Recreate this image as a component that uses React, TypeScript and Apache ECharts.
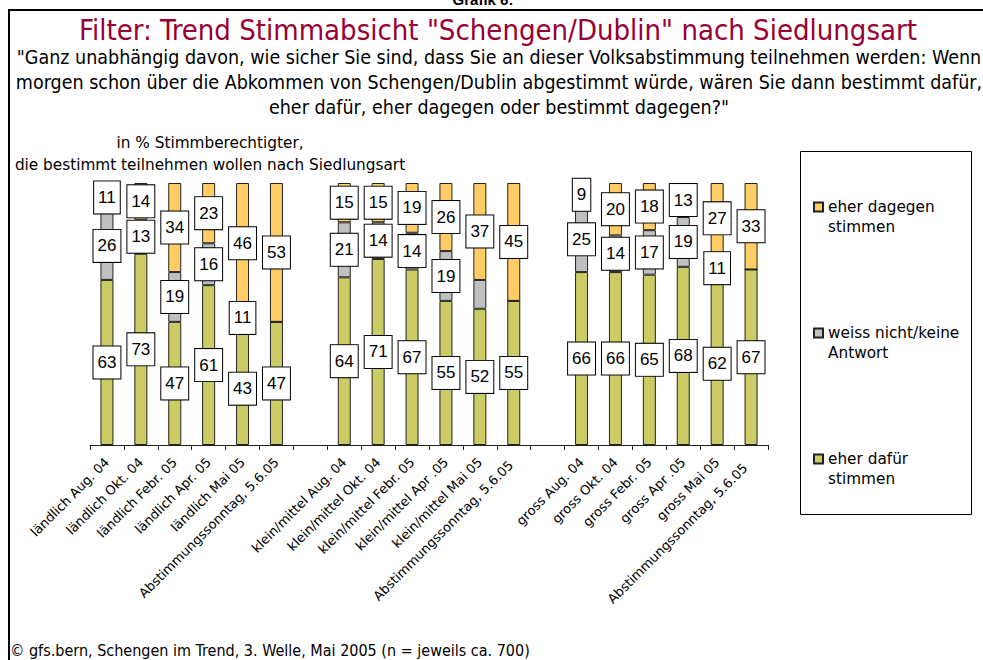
import { useEffect, useRef } from "react";
import * as echarts from "echarts";

const categories = [
  "ländlich Aug. 04",
  "ländlich Okt. 04",
  "ländlich Febr. 05",
  "ländlich Apr. 05",
  "ländlich Mai 05",
  "Abstimmungssonntag, 5.6.05",
  " ",
  "klein/mittel Aug. 04",
  "klein/mittel Okt. 04",
  "klein/mittel Febr. 05",
  "klein/mittel Apr .05",
  "klein/mittel Mai 05",
  "Abstimmungssonntag, 5.6.05 ",
  "  ",
  "gross Aug. 04",
  "gross Okt. 04",
  "gross Febr. 05",
  "gross Apr .05",
  "gross Mai 05",
  "Abstimmungssonntag, 5.6.05  ",
];

const eherDafuer = [63, 73, 47, 61, 43, 47, null, 64, 71, 67, 55, 52, 55, null, 66, 66, 65, 68, 62, 67];
const weissNicht = [26, 13, 19, 16, 11, 0, null, 21, 14, 14, 19, 11, 0, null, 25, 14, 17, 19, 11, 0];
const eherDagegen = [11, 14, 34, 23, 46, 53, null, 15, 15, 19, 26, 37, 45, null, 9, 20, 18, 13, 27, 33];
// indices of segments whose value label is not printed in the original
const weissNichtHiddenLabels = [11];

const seriesNames = ["eher dafür stimmen", "weiss nicht/keine Antwort", "eher dagegen stimmen"];
const legendLabels: Record<string, string> = {
  "eher dagegen stimmen": " \neher dagegen\nstimmen",
  "weiss nicht/keine Antwort": " \nweiss nicht/keine\nAntwort",
  "eher dafür stimmen": " \neher dafür\nstimmen",
};

const titleText = 'Filter: Trend Stimmabsicht "Schengen/Dublin" nach Siedlungsart';
const questionLines = [
  '"Ganz unabhängig davon, wie sicher Sie sind, dass Sie an dieser Volksabstimmung teilnehmen werden: Wenn',
  "morgen schon über die Abkommen von Schengen/Dublin abgestimmt würde, wären Sie dann bestimmt dafür,",
  'eher dafür, eher dagegen oder bestimmt dagegen?"',
];
const unitLines = ["in % Stimmberechtigter,", "die bestimmt teilnehmen wollen nach Siedlungsart"];
const footerText = "© gfs.bern, Schengen im Trend, 3. Welle, Mai 2005 (n = jeweils ca. 700)";

const NARROW = "'Liberation Sans Narrow', 'Arial Narrow', 'DejaVu Sans Condensed', sans-serif";
const VERDANA = "'DejaVu Sans', Verdana, sans-serif";

function buildData(values: (number | null)[], hidden: number[] = []) {
  return values.map((v, i) => {
    if (v === null) return "-";
    if (v === 0 || hidden.includes(i)) return { value: v, label: { show: false } };
    return v;
  });
}

export default function App() {
  const ref = useRef<HTMLDivElement>(null);
  useEffect(() => {
    const chart = echarts.init(ref.current!, null, { renderer: "svg" });
    const labelStyle = {
      show: true,
      position: "inside",
      color: "#000",
      fontFamily: "'Liberation Sans', Arial, sans-serif",
      fontSize: 17,
      lineHeight: 18,
      backgroundColor: "#fff",
      borderColor: "#000",
      borderWidth: 1,
      padding: [7, 4, 7, 4],
    };
    const colors = ["#CCCC66", "#C0C0C0", "#FFCC66"];
    const allValues = [eherDafuer, weissNicht, eherDagegen];
    const hiddenSets = [[], weissNichtHiddenLabels, []];
    const series = seriesNames.map((name, k) => ({
      name,
      type: "bar",
      stack: "total",
      barWidth: 13,
      itemStyle: { color: colors[k], borderColor: "#222", borderWidth: 1 },
      label: labelStyle,
      data: buildData(allValues[k], hiddenSets[k]),
    }));

    const graphic: any[] = [
      {
        type: "rect",
        shape: { x: 9, y: 10, width: 1000, height: 700 },
        style: { fill: "none", stroke: "#000", lineWidth: 2 },
      },
      {
        type: "text",
        x: 483,
        y: -1,
        style: {
          text: "Grafik 6:",
          font: "bold 15px 'Liberation Sans', Arial, sans-serif",
          fill: "#000",
          align: "center",
          verticalAlign: "middle",
        },
      },
      {
        type: "text",
        x: 498,
        y: 30,
        style: {
          text: titleText,
          fontFamily: NARROW,
          fontSize: 29,
          fill: "#990033",
          align: "center",
          verticalAlign: "middle",
        },
      },
      ...questionLines.map((t, i) => ({
        type: "text",
        x: 499,
        y: 57 + i * 25,
        style: {
          text: t,
          fontFamily: NARROW,
          fontSize: 19.5,
          fill: "#000",
          align: "center",
          verticalAlign: "middle",
        },
      })),
      ...unitLines.map((t, i) => ({
        type: "text",
        x: 210,
        y: 143 + i * 22,
        style: {
          text: t,
          fontFamily: VERDANA,
          fontSize: 15.3,
          fill: "#000",
          align: "center",
          verticalAlign: "middle",
        },
      })),
      {
        type: "rect",
        shape: { x: 800.5, y: 151.5, width: 171, height: 363 },
        style: { fill: "none", stroke: "#000", lineWidth: 1 },
      },
      {
        type: "text",
        x: 10,
        y: 650,
        style: {
          text: footerText,
          fontFamily: NARROW,
          fontSize: 16,
          fill: "#000",
          align: "left",
          verticalAlign: "middle",
        },
      },
    ];

    chart.setOption({
      animation: false,
      backgroundColor: "#fff",
      grid: { left: 90, right: 215, top: 183, bottom: 215, containLabel: false },
      xAxis: {
        type: "category",
        data: categories,
        axisLine: { lineStyle: { color: "#222", width: 1 } },
        axisTick: { show: true, length: 5, lineStyle: { color: "#222" } },
        axisLabel: {
          interval: 0,
          rotate: 45,
          margin: 15,
          color: "#000",
          fontFamily: VERDANA,
          fontSize: 13,
        },
      },
      yAxis: { type: "value", min: 0, max: 100, show: false },
      legend: {
        orient: "vertical",
        left: 813,
        top: 177,
        padding: 0,
        itemWidth: 9,
        itemHeight: 9,
        itemGap: 66,
        icon: "rect",
        data: [seriesNames[2], seriesNames[1], seriesNames[0]],
        formatter: (n: string) => legendLabels[n] || n,
        textStyle: { fontFamily: VERDANA, fontSize: 15.3, lineHeight: 20, color: "#000" },
      },
      series,
      graphic,
    });
    return () => chart.dispose();
  }, []);
  return <div ref={ref} style={{ position: "fixed", left: 0, top: 0, width: 983, height: 660 }} />;
}
